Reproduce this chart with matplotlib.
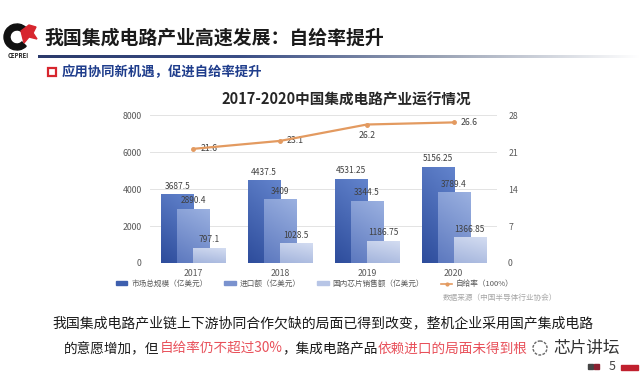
import numpy as np
import matplotlib
matplotlib.use('Agg')
import matplotlib.pyplot as plt
from matplotlib.colors import LinearSegmentedColormap
from matplotlib.patches import Rectangle, Wedge, Circle, Polygon
from matplotlib.lines import Line2D

plt.rcParams['font.family'] = ['Noto Sans CJK SC', 'DejaVu Sans']

# data
years = ['2017', '2018', '2019', '2020']
market = [3687.5, 4437.5, 4531.25, 5156.25]      # 市场总规模
imports = [2890.4, 3409, 3344.5, 3789.4]          # 进口额
domestic = [797.1, 1028.5, 1186.75, 1366.85]      # 国内芯片销售额
self_rate = [21.6, 23.1, 26.2, 26.6]              # 自给率
series_names = ['市场总规模（亿美元）', '进口额（亿美元）', '国内芯片销售额（亿美元）', '自给率（100%）']
left_ticks = [0, 2000, 4000, 6000, 8000]
right_ticks = [0, 7, 14, 21, 28]

fig = plt.figure(figsize=(6.4, 3.76), dpi=100)

# background layer, pixel coordinates
bg = fig.add_axes([0, 0, 1, 1])
bg.set_xlim(0, 640)
bg.set_ylim(376, 0)
bg.axis('off')

# logo
bg.add_patch(Wedge((17, 37), 13, 45, 315, width=6, color='#111111'))
bg.add_patch(Polygon([(21, 31), (29, 25), (36, 27), (33, 33), (37, 39), (29, 37), (24, 43)],
                     color='#D7262E'))
bg.text(18, 56, 'CEPREI', fontsize=4.3, fontweight='bold', ha='center', va='center', color='#222222')

# slide title
bg.text(44, 38, '我国集成电路产业高速发展：自给率提升', fontsize=13.6, fontweight='bold',
        va='center', ha='left', color='#1a1a1a')
line_cmap = LinearSegmentedColormap.from_list('ln', ['#2B3A6B', '#3A4E86', '#9AA3B5', '#FFFFFF'])
bg.imshow(np.linspace(0, 1, 256).reshape(1, -1), cmap=line_cmap, aspect='auto',
          extent=[38, 640, 58.5, 55.5], zorder=1)

# subtitle
bg.add_patch(Rectangle((48, 68), 8, 8, fill=False, edgecolor='#D7262E', lw=1.6))
bg.text(62, 72, '应用协同新机遇，促进自给率提升', fontsize=9.6, fontweight='bold',
        va='center', ha='left', color='#1F3D8C')

# chart title
bg.text(346, 100, '2017-2020中国集成电路产业运行情况', fontsize=10.5, fontweight='bold',
        va='center', ha='center', color='#262626')

# chart
ax = fig.add_axes([150 / 640, 1 - 263 / 376, 347 / 640, 148 / 376])
x = np.arange(len(years))
w = 0.37
off = 0.185

def grad_bars(bars, c_bottom, c_top, z):
    cmap = LinearSegmentedColormap.from_list('g', [c_bottom, c_top])
    v = np.linspace(0, 1, 64).reshape(-1, 1)
    h = np.linspace(0, 1, 16).reshape(1, -1)
    arr = 0.75 * v + 0.25 * h
    for b in bars:
        x0, y0 = b.get_x(), b.get_y()
        ax.imshow(arr, cmap=cmap, origin='lower', aspect='auto', zorder=z,
                  extent=[x0, x0 + b.get_width(), y0, y0 + b.get_height()])

b1 = ax.bar(x - off, market, w, color='#3E5FAE', zorder=2)
grad_bars(b1, '#2E4D9C', '#6283CC', 2)
b2 = ax.bar(x, imports, w, color='#7A92CE', zorder=3)
grad_bars(b2, '#5D79BF', '#9AB0E0', 3)
b3 = ax.bar(x + off, domestic, w, color='#B7C5E6', zorder=4)
grad_bars(b3, '#A3B4DC', '#D3DCF1', 4)

for bars, vals in [(b1, market), (b2, imports), (b3, domestic)]:
    for b, v in zip(bars, vals):
        ax.annotate(f'{v:g}', (b.get_x() + b.get_width() / 2, v), xytext=(0, 3),
                    textcoords='offset points', ha='center', va='bottom',
                    fontsize=6, color='#404040', zorder=6)

ax.set_xlim(-0.5, 3.5)
ax.set_ylim(0, 8000)
ax.set_yticks(left_ticks)
ax.set_xticks(x)
ax.set_xticklabels(years)
ax.grid(axis='y', color='#E3E3E3', lw=0.7, zorder=0)
ax.set_axisbelow(True)
for s in ax.spines.values():
    s.set_visible(False)
ax.tick_params(length=0, labelsize=6.3, colors='#595959', pad=4)
ax.tick_params(axis='y', pad=6)

ax2 = ax.twinx()
ax2.plot(x, self_rate, color='#E39A60', lw=1.6, marker='o', ms=2.5, zorder=5)
ax2.set_ylim(0, 28)
ax2.set_yticks(right_ticks)
for s in ax2.spines.values():
    s.set_visible(False)
ax2.tick_params(length=0, labelsize=6.3, colors='#595959', pad=8)
for i, v in enumerate(self_rate):
    if i == 2:
        ax2.annotate(f'{v:g}', (x[i], v), xytext=(0, -5), textcoords='offset points',
                     ha='center', va='top', fontsize=6.3, color='#404040')
    else:
        ax2.annotate(f'{v:g}', (x[i], v), xytext=(5, 0), textcoords='offset points',
                     ha='left', va='center', fontsize=6.3, color='#404040')

handles = [Rectangle((0, 0), 1, 1, color='#3E5FAE'),
           Rectangle((0, 0), 1, 1, color='#7A92CE'),
           Rectangle((0, 0), 1, 1, color='#B7C5E6'),
           Line2D([0], [0], color='#E39A60', lw=1.2, marker='o', ms=2)]
fig.legend(handles, series_names, loc='center', bbox_to_anchor=(0.492, 1 - 284 / 376),
           ncol=4, frameon=False, fontsize=5.5, labelcolor='#595959',
           handlelength=1.5, handleheight=0.5, handletextpad=0.5, columnspacing=2.2)

bg.text(443, 298, '数据来源（中国半导体行业协会）', fontsize=5.5, color='#A6A6A6',
        ha='left', va='center')

# bottom text (the end of line 2 is hidden under the watermark)
bg.text(52, 323, '我国集成电路产业链上下游协同合作欠缺的局面已得到改变，整机企业采用国产集成电路',
        fontsize=10, color='#1a1a1a', ha='left', va='center')
segs = [('的意愿增加，但', '#1a1a1a'), ('自给率仍不超过30%', '#E8505A'),
        ('，集成电路产品', '#1a1a1a'), ('依赖进口的局面未得到根', '#E8505A')]
prev = bg.text(64, 349, segs[0][0], fontsize=9.8, color=segs[0][1], ha='left', va='center')
for s, c in segs[1:]:
    prev = bg.annotate(s, xy=(1, 0), xycoords=prev, ha='left', va='bottom',
                       fontsize=9.8, color=c)

# watermark
bg.add_patch(Circle((540, 348), 7, fill=False, edgecolor='#666666', lw=1, ls=(0, (2, 1)), zorder=6))
bg.text(553, 348, '芯片讲坛', fontsize=12, fontweight='light', color='#333333',
        ha='left', va='center', zorder=6)

# page number
bg.add_patch(Rectangle((588, 364), 5, 5, color='#444444'))
bg.add_patch(Rectangle((594, 364), 5, 5, color='#8A2030'))
bg.text(612, 367, '5', fontsize=9, color='#444444', ha='center', va='center')
bg.add_patch(Rectangle((621, 365), 17, 5, color='#C0202E'))

fig.savefig('out.png', dpi=100)
